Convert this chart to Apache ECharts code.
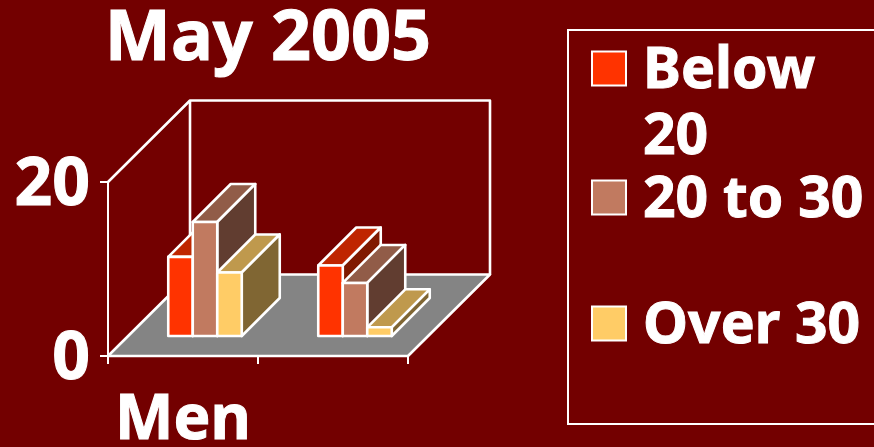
<!DOCTYPE html>
<html><head><meta charset="utf-8">
<style>html,body{margin:0;padding:0;background:#730000}#c{width:874px;height:447px}</style>
<script src="https://cdn.jsdelivr.net/npm/echarts@6/dist/echarts.min.js"></script>
</head><body><div id="c"></div>
<script>
const categories = ['Men', ''];
const below20 = [9.1, 8.1];
const from20to30 = [13.1, 6.1];
const over30 = [7.3, 1.0];
const yTicks = [0, 20];

const FONT = '"Noto Sans"';
const DEPTH = {x: 82, y: -81.5};
const BAR = {front: 22, depth: 38, width: 24.5, lift: 20};
const LINE = {stroke: '#fff', lineWidth: 2.6, lineJoin: 'round'};
const TEXT = {color: '#fff', fontFamily: FONT, fontWeight: 'bold', textBorderColor: '#fff', textBorderWidth: 1};

function shade(hex, k) {
  const n = parseInt(hex.slice(1), 16);
  return 'rgb(' + [n >> 16 & 255, n >> 8 & 255, n & 255].map(v => Math.round(v * k)).join(',') + ')';
}
function wall(params) {
  const r = params.coordSys;
  const x0 = r.x, x1 = r.x + r.width, y0 = r.y, y1 = r.y + r.height;
  const dx = DEPTH.x, dy = DEPTH.y;
  return {type: 'group', children: [
    {type: 'polygon', shape: {points: [[x0, y1], [x1, y1], [x1 + dx, y1 + dy], [x0 + dx, y1 + dy]]},
      style: {fill: '#848484', ...LINE}},
    {type: 'polyline', shape: {points: [[x0, y0], [x0 + dx, y0 + dy], [x1 + dx, y0 + dy], [x1 + dx, y1 + dy]]},
      style: {fill: null, ...LINE}},
    {type: 'line', shape: {x1: x0 + dx, y1: y0 + dy, x2: x0 + dx, y2: y1 + dy}, style: LINE}
  ]};
}
function bar3d(slot, color) {
  return function (params, api) {
    const base = api.coord([api.value(0), 0]);
    const top = api.coord([api.value(0), api.value(1)]);
    const l = base[0] + BAR.front + (slot - 1.5) * BAR.width;
    const r = l + BAR.width;
    const b = base[1] - BAR.lift;
    const t = top[1] - BAR.lift;
    const d = BAR.depth;
    const poly = (points, fill) => ({type: 'polygon', shape: {points}, style: {fill, ...LINE}});
    return {type: 'group', children: [
      poly([[l, t], [l + d, t - d], [r + d, t - d], [r, t]], shade(color, 0.75)),
      poly([[r, t], [r + d, t - d], [r + d, b - d], [r, b]], shade(color, 0.5)),
      poly([[l, t], [r, t], [r, b], [l, b]], color)
    ]};
  };
}
const toRows = arr => arr.map((v, i) => [i, v]);
const legendBase = {
  orient: 'vertical', selectedMode: false, itemWidth: 34, itemHeight: 34, padding: 0,
  icon: 'rect', itemStyle: {borderColor: '#fff', borderWidth: 2},
  textStyle: {...TEXT, fontSize: 57, lineHeight: 66, padding: [0, 0, 0, 12],
    rich: {
      t: {...TEXT, fontSize: 57, lineHeight: 66},
      g: {fontSize: 1, lineHeight: 7},
      b: {fontSize: 1, lineHeight: 73}
    }}
};
const chart = echarts.init(document.getElementById('c'));
chart.setOption({
  animation: false,
  backgroundColor: '#730000',
  title: {text: 'May 2005', left: 263, textAlign: 'center', top: 0,
    textStyle: {...TEXT, fontSize: 70}},
  grid: {left: 108, width: 300, top: 182, height: 174, outerBoundsMode: 'none'},
  xAxis: {type: 'category', data: categories,
    axisLine: {lineStyle: {color: '#fff', width: 2}},
    axisTick: {show: true, length: 8, alignWithLabel: false, lineStyle: {color: '#fff', width: 2}},
    axisLabel: {...TEXT, fontSize: 62, margin: 34, interval: 0}},
  yAxis: {type: 'value', min: yTicks[0], max: yTicks[1], interval: 20, splitLine: {show: false},
    axisLine: {show: true, lineStyle: {color: '#fff', width: 2}},
    axisTick: {show: true, length: 8, lineStyle: {color: '#fff', width: 2}},
    axisLabel: {margin: 18, formatter: v => '{g| }\n{t|' + v + '}',
      rich: {t: {...TEXT, fontSize: 66, lineHeight: 70, align: 'right'}, g: {fontSize: 1, lineHeight: 8}}}},
  legend: [
    {...legendBase, data: ['Below 20'], left: 591, top: -34,
      formatter: n => '{b| }\n' + n.split(' ').map(w => '{t|' + w + '}').join('\n')},
    {...legendBase, data: ['20 to 30'], left: 591, top: 161, formatter: n => '{g| }\n{t|' + n + '}'},
    {...legendBase, data: ['Over 30'], left: 591, top: 287, formatter: n => '{g| }\n{t|' + n + '}'}
  ],
  graphic: [{type: 'rect', shape: {x: 568, y: 30, width: 340, height: 394},
    style: {fill: null, stroke: '#fff', lineWidth: 2}, z: 0}],
  series: [
    {type: 'custom', name: 'walls', data: [[0, 0]], renderItem: wall, z: 1},
    {type: 'custom', name: 'Below 20', data: toRows(below20), renderItem: bar3d(0, '#FF3300'), itemStyle: {color: '#FF3300'}, z: 2},
    {type: 'custom', name: '20 to 30', data: toRows(from20to30), renderItem: bar3d(1, '#C17A60'), itemStyle: {color: '#C17A60'}, z: 3},
    {type: 'custom', name: 'Over 30', data: toRows(over30), renderItem: bar3d(2, '#FFCC66'), itemStyle: {color: '#FFCC66'}, z: 4}
  ]
});
</script></body></html>
